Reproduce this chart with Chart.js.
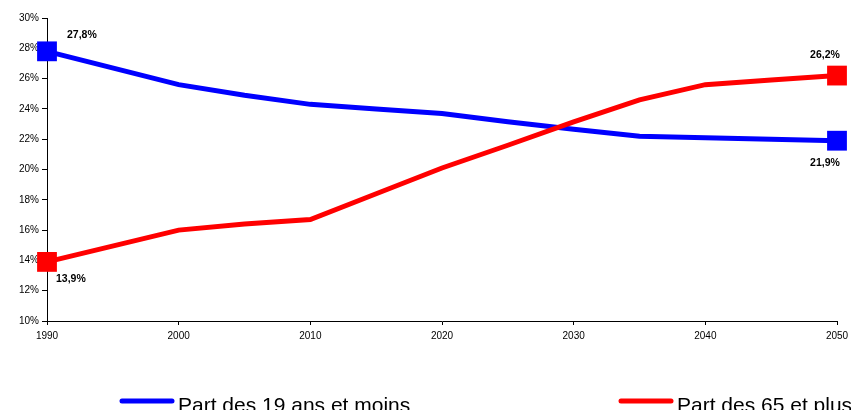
<!DOCTYPE html>
<html>
<head>
<meta charset="utf-8">
<script src="https://cdn.jsdelivr.net/npm/chart.js@4/dist/chart.umd.min.js"></script>
<style>
  html, body { margin: 0; padding: 0; background: #fff; }
  #wrap { width: 851px; height: 410px; overflow: hidden; }
</style>
</head>
<body>
<div id="wrap"><canvas id="myChart" width="851" height="410"></canvas></div>
<script>
// années
const years = [1990, 2000, 2005, 2010, 2015, 2020, 2025, 2030, 2035, 2040, 2045, 2050];
// part des 19 ans et moins (%)
const jeunes = [27.8, 25.6, 24.9, 24.3, 24.0, 23.7, 23.15, 22.65, 22.2, 22.1, 22.0, 21.9];
// part des 65 ans et plus (%)
const seniors = [13.9, 16.0, 16.4, 16.7, 18.4, 20.1, 21.6, 23.15, 24.6, 25.6, 25.9, 26.2];
const xTicks = [1990, 2000, 2010, 2020, 2030, 2040, 2050];
const yTicks = [10, 12, 14, 16, 18, 20, 22, 24, 26, 28, 30];
const labelJeunes = 'Part des 19 ans et moins';
const labelSeniors = 'Part des 65 et plus';

const FONT = '"Liberation Sans", Arial, sans-serif';

function toPoints(vals) {
    return vals.map((v, i) => ({ x: years[i], y: v }));
}

function endRadius(ctx) {
    const n = ctx.dataset.data.length;
    return (ctx.dataIndex === 0 || ctx.dataIndex === n - 1) ? 14 : 0;
}

function fmt(v) {
    return v.toFixed(1).replace('.', ',') + '%';
}

// étiquettes des valeurs aux extrémités
const endLabels = {
    id: 'endLabels',
    afterDatasetsDraw(chart) {
        const ctx = chart.ctx;
        ctx.save();
        ctx.font = 'bold 10.5px ' + FONT;
        ctx.fillStyle = '#000';
        ctx.textBaseline = 'middle';
        chart.data.datasets.forEach((ds, di) => {
            const meta = chart.getDatasetMeta(di);
            const off = ds.labelOffsets;
            const last = meta.data.length - 1;
            [[0, off.first], [last, off.last]].forEach(([idx, o]) => {
                const pt = meta.data[idx];
                ctx.textAlign = o.align;
                ctx.fillText(fmt(ds.data[idx].y), pt.x + o.dx, pt.y + o.dy);
            });
        });
        ctx.restore();
    }
};

// légende en bas
const bottomLegend = {
    id: 'bottomLegend',
    afterDraw(chart) {
        const ctx = chart.ctx;
        const pos = [122, 621];
        ctx.save();
        chart.data.datasets.forEach((ds, i) => {
            const x = pos[i];
            ctx.strokeStyle = ds.borderColor;
            ctx.lineWidth = 5;
            ctx.lineCap = 'round';
            ctx.beginPath();
            ctx.moveTo(x, 401);
            ctx.lineTo(x + 50, 401);
            ctx.stroke();
            ctx.fillStyle = '#000';
            ctx.font = '21px ' + FONT;
            ctx.textAlign = 'left';
            ctx.textBaseline = 'alphabetic';
            ctx.fillText(ds.label, x + 56, 412);
        });
        ctx.restore();
    }
};

function dessiner() {
    const ctx = document.getElementById('myChart').getContext('2d');
    new Chart(ctx, {
        type: 'line',
        data: {
            datasets: [{
                label: labelJeunes,
                data: toPoints(jeunes),
                borderColor: '#0000FF',
                backgroundColor: '#0000FF',
                borderWidth: 5,
                pointStyle: 'rect',
                pointRadius: endRadius,
                pointHoverRadius: endRadius,
                pointBorderWidth: 0,
                tension: 0,
                clip: false,
                order: 1,
                labelOffsets: {
                    first: { dx: 20, dy: -16, align: 'left' },
                    last: { dx: -12, dy: 22, align: 'center' }
                }
            }, {
                label: labelSeniors,
                data: toPoints(seniors),
                borderColor: '#FF0000',
                backgroundColor: '#FF0000',
                borderWidth: 5,
                pointStyle: 'rect',
                pointRadius: endRadius,
                pointHoverRadius: endRadius,
                pointBorderWidth: 0,
                tension: 0,
                clip: false,
                order: 0,
                labelOffsets: {
                    first: { dx: 9, dy: 17, align: 'left' },
                    last: { dx: -12, dy: -20, align: 'center' }
                }
            }]
        },
        options: {
            responsive: false,
            animation: false,
            events: [],
            layout: { padding: { top: 18, right: 0, bottom: 59, left: 0 } },
            plugins: {
                legend: { display: false },
                tooltip: { enabled: false }
            },
            scales: {
                x: {
                    type: 'linear',
                    min: xTicks[0],
                    max: xTicks[xTicks.length - 1],
                    afterBuildTicks: axis => { axis.ticks = xTicks.map(v => ({ value: v })); },
                    afterFit: axis => { axis.height = 30; axis.paddingRight = 12; },
                    grid: { drawOnChartArea: false, color: '#000', tickLength: 4 },
                    border: { color: '#000', width: 1 },
                    ticks: {
                        color: '#000',
                        font: { family: FONT, size: 10 },
                        padding: 5,
                        maxRotation: 0,
                        callback: v => String(v)
                    }
                },
                y: {
                    min: yTicks[0],
                    max: yTicks[yTicks.length - 1],
                    afterBuildTicks: axis => { axis.ticks = yTicks.map(v => ({ value: v })); },
                    afterFit: axis => { axis.width = 47; },
                    grid: { drawOnChartArea: false, color: '#000', tickLength: 5 },
                    border: { color: '#000', width: 1 },
                    ticks: {
                        color: '#000',
                        font: { family: FONT, size: 10 },
                        padding: 3,
                        callback: v => v + '%'
                    }
                }
            }
        },
        plugins: [endLabels, bottomLegend]
    });
}

window.onload = dessiner;
</script>
</body>
</html>
